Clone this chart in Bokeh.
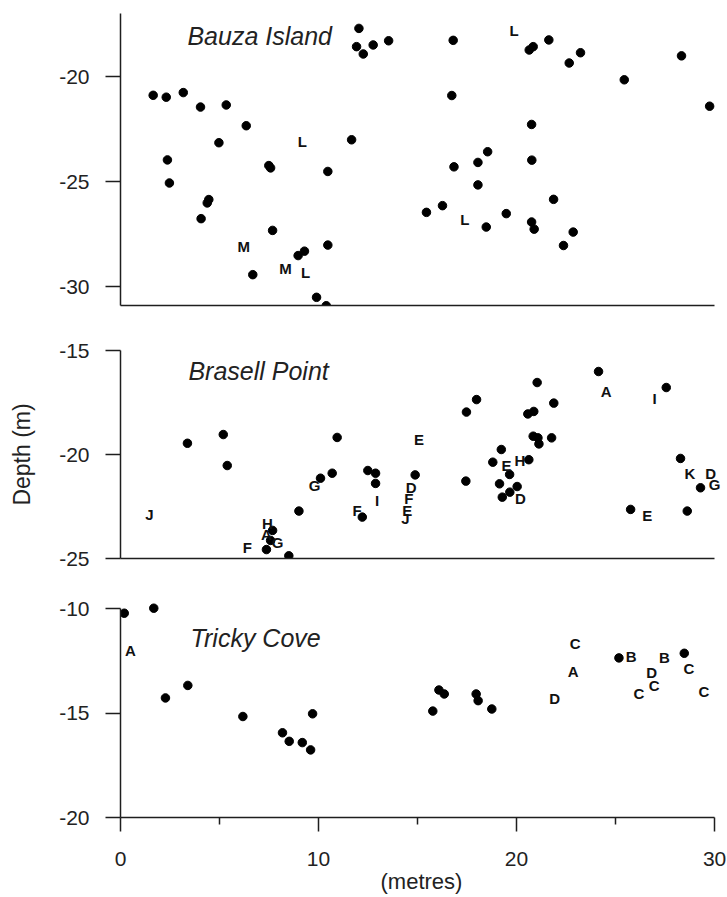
from bokeh.plotting import figure
from bokeh.layouts import column
from bokeh.models import Range1d, FixedTicker, ColumnDataSource, Label
from bokeh.core.properties import value
from bokeh.embed import file_html
from bokeh.resources import INLINE

FONT = "Liberation Sans"

# ---------------- Bauza Island ----------------
bauza_x = [12.04, 11.92, 12.26, 12.76, 13.54, 1.65, 2.31, 3.17, 4.04, 5.34, 6.35, 4.97,
           11.67, 2.37, 7.49, 7.58, 10.47, 2.47, 4.46, 4.38, 4.07, 7.68, 10.47, 9.29,
           8.97, 6.68, 9.90, 10.39, 16.80, 20.64, 20.84, 21.63, 23.23, 22.66, 25.44,
           28.33, 29.75, 16.73, 20.76, 18.54, 18.05, 16.84, 20.77, 18.05, 21.87, 15.45,
           16.26, 18.47, 19.48, 20.76, 20.89, 22.86, 22.37]
bauza_y = [-17.69, -18.56, -18.91, -18.48, -18.28, -20.88, -20.97, -20.75, -21.44, -21.34,
           -22.33, -23.14, -23.00, -23.96, -24.23, -24.34, -24.51, -25.06, -25.85, -26.01,
           -26.76, -27.32, -28.02, -28.31, -28.52, -29.43, -30.51, -30.91, -18.26, -18.72,
           -18.56, -18.24, -18.85, -19.34, -20.14, -19.00, -21.40, -20.89, -22.27, -23.57,
           -24.08, -24.29, -23.97, -25.15, -25.84, -26.46, -26.14, -27.16, -26.52, -26.92,
           -27.26, -27.40, -28.04]
bauza_lab = ["L", "M", "M", "L", "L", "L"]
bauza_lab_x = [9.18, 6.23, 8.33, 9.34, 19.87, 17.39]
bauza_lab_y = [-23.06, -28.09, -29.12, -29.31, -17.77, -26.81]

# ---------------- Brasell Point ----------------
brasell_x = [3.38, 5.19, 5.39, 10.94, 10.69, 10.10, 12.49, 12.88, 12.88, 12.21, 9.01, 14.88,
             7.68, 7.58, 7.37, 8.50, 24.14, 27.56, 21.04, 17.98, 17.47, 21.88, 20.57, 20.87,
             20.84, 21.08, 21.13, 21.77, 19.23, 18.80, 20.62, 19.65, 17.44, 19.14, 20.03,
             19.66, 19.28, 25.76, 28.62, 28.28, 29.29]
brasell_y = [-19.46, -19.04, -20.53, -19.18, -20.90, -21.14, -20.77, -20.90, -21.39, -23.01,
             -22.72, -20.98, -23.65, -24.13, -24.57, -24.87, -16.01, -16.78, -16.54, -17.36,
             -17.96, -17.53, -18.05, -17.93, -19.12, -19.20, -19.49, -19.20, -19.76, -20.37,
             -20.25, -20.96, -21.28, -21.41, -21.54, -21.81, -22.05, -22.64, -22.72, -20.19,
             -21.60]
brasell_lab = ["E", "G", "I", "F", "D", "F", "E", "J", "J", "H", "A", "G", "F", "A", "I",
               "E", "H", "D", "E", "K", "D", "G"]
brasell_lab_x = [15.07, 9.80, 12.96, 11.95, 14.68, 14.56, 14.48, 14.39, 1.46, 7.42, 7.37,
                 7.93, 6.41, 24.53, 26.97, 19.49, 20.17, 20.20, 26.60, 28.75, 29.80, 30.00]
brasell_lab_y = [-19.30, -21.49, -22.21, -22.69, -21.57, -22.13, -22.69, -23.09, -22.90,
                 -23.32, -23.85, -24.23, -24.47, -16.96, -17.29, -20.53, -20.29, -22.13,
                 -22.93, -20.90, -20.90, -21.44]

# ---------------- Tricky Cove ----------------
tricky_x = [0.19, 1.68, 3.40, 2.27, 6.18, 8.18, 8.52, 9.18, 9.60, 9.70, 16.08, 16.35,
            15.77, 17.96, 18.06, 18.75, 25.17, 28.47]
tricky_y = [-10.21, -9.97, -13.67, -14.27, -15.16, -15.94, -16.35, -16.41, -16.76, -15.03,
            -13.89, -14.08, -14.90, -14.08, -14.40, -14.80, -12.35, -12.13]
tricky_lab = ["A", "D", "C", "A", "B", "B", "C", "D", "C", "C", "C"]
tricky_lab_x = [0.50, 21.92, 22.96, 22.86, 25.79, 27.47, 28.70, 26.82, 26.95, 26.18, 29.46]
tricky_lab_y = [-12.02, -14.29, -11.67, -13.02, -12.27, -12.35, -12.84, -13.06, -13.65,
                -14.05, -13.97]

x_ticks = [0, 10, 20, 30]
x_minor_ticks = [5, 15, 25]

AXIS_COLOR = "#1e1e1e"
x_range = Range1d(0, 30.4)


def hyphen_labels(ticks):
    return {t: str(t) for t in ticks}


def make_panel(y_lo, y_hi, y_ticks, y_bounds, height, top, bottom, title, title_x, title_y,
               px, py, lt, lx, ly, bottom_axis=False):
    p = figure(width=727, height=height, x_range=x_range, y_range=Range1d(y_lo, y_hi),
               output_backend="svg", toolbar_location=None,
               min_border_left=120, min_border_right=5,
               min_border_top=top, min_border_bottom=bottom)
    p.outline_line_color = None
    p.grid.visible = False
    p.background_fill_color = "white"

    ya = p.yaxis[0]
    ya.ticker = FixedTicker(ticks=y_ticks, minor_ticks=[])
    ya.major_label_overrides = hyphen_labels(y_ticks)
    ya.bounds = y_bounds
    ya.major_tick_out = 15
    ya.major_tick_in = 0
    ya.minor_tick_out = 0
    ya.minor_tick_in = 0
    ya.axis_line_color = AXIS_COLOR
    ya.axis_line_width = 1.5
    ya.major_tick_line_color = AXIS_COLOR
    ya.major_tick_line_width = 1.5
    ya.major_label_text_font = FONT
    ya.major_label_text_font_size = "21px"
    ya.major_label_text_color = "#222222"
    ya.major_label_standoff = 16

    xa = p.xaxis[0]
    xa.bounds = (0, 30)
    xa.axis_line_color = AXIS_COLOR
    xa.axis_line_width = 1.5
    xa.major_tick_in = 0
    xa.minor_tick_in = 0
    if bottom_axis:
        xa.ticker = FixedTicker(ticks=x_ticks, minor_ticks=x_minor_ticks)
        xa.major_tick_out = 14
        xa.minor_tick_out = 7
        xa.major_tick_line_color = AXIS_COLOR
        xa.major_tick_line_width = 1.5
        xa.minor_tick_line_color = AXIS_COLOR
        xa.minor_tick_line_width = 1.5
        xa.major_label_text_font = FONT
        xa.major_label_text_font_size = "21px"
        xa.major_label_text_color = "#222222"
        xa.major_label_standoff = 20
        xa.axis_label = "(metres)"
        xa.axis_label_text_font = FONT
        xa.axis_label_text_font_size = "22px"
        xa.axis_label_text_font_style = "normal"
        xa.axis_label_text_color = "#222222"
        xa.axis_label_standoff = 0
    else:
        xa.ticker = FixedTicker(ticks=[], minor_ticks=[])
        xa.major_tick_out = 0
        xa.minor_tick_out = 0

    p.scatter(x=px, y=py, size=8.5, color="black")
    src = ColumnDataSource(dict(x=lx, y=ly, t=lt))
    p.text(x="x", y="y", text="t", source=src, text_font=value(FONT),
           text_font_size="15px", text_font_style="bold", text_align="center",
           text_baseline="middle", text_color="#111111")
    p.add_layout(Label(x=title_x, y=title_y, text=title, text_font=FONT,
                       text_font_size="25px", text_font_style="italic",
                       text_color="#222222", text_baseline="alphabetic"))
    return p


p1 = make_panel(-30.9, -16.98, [-30, -25, -20], (-30.9, -16.98), 325, 13, 20,
                "Bauza Island", 3.38, -18.04,
                bauza_x, bauza_y, bauza_lab, bauza_lab_x, bauza_lab_y)
p2 = make_panel(-25, -15, [-25, -20, -15], (-25, -15), 253, 25, 20,
                "Brasell Point", 3.43, -15.99,
                brasell_x, brasell_y, brasell_lab, brasell_lab_x, brasell_lab_y)
p2.yaxis[0].axis_label = "Depth (m)"
p2.yaxis[0].axis_label_text_font = FONT
p2.yaxis[0].axis_label_text_font_size = "23px"
p2.yaxis[0].axis_label_text_font_style = "normal"
p2.yaxis[0].axis_label_text_color = "#222222"
p2.yaxis[0].axis_label_standoff = 21
p3 = make_panel(-20, -9.6, [-20, -15, -10], (-20, -10), 318, 22, 79,
                "Tricky Cove", 3.54, -11.41,
                tricky_x, tricky_y, tricky_lab, tricky_lab_x, tricky_lab_y, bottom_axis=True)

layout = column(p1, p2, p3, spacing=0)
open("out.html", "w").write(file_html(layout, INLINE))
